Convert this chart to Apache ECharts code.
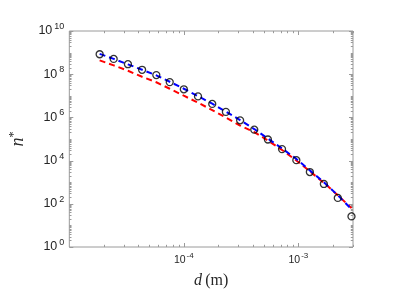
<!DOCTYPE html>
<html>
<head>
<meta charset="utf-8">
<script src="https://cdn.jsdelivr.net/npm/echarts@6/dist/echarts.min.js"></script>
<style>
html,body{margin:0;padding:0;background:#fff;}
#c{width:415px;height:294px;}
</style>
</head>
<body>
<div id="c"></div>
<script>
// d (m)
var dValues = [1.84e-5, 2.44e-5, 3.25e-5, 4.32e-5, 5.75e-5, 7.53e-5, 1.0e-4, 1.33e-4, 1.77e-4, 2.33e-4, 3.1e-4, 4.12e-4, 5.42e-4, 7.2e-4, 9.6e-4, 1.26e-3, 1.67e-3, 2.21e-3, 2.91e-3];
// measured n* (circles)
var nMeasured = [8.4e8, 5.1e8, 2.9e8, 1.6e8, 9.1e7, 4.3e7, 2.0e7, 9.4e6, 4.2e6, 1.8e6, 7.3e5, 2.7e5, 9.5e4, 3.4e4, 1.05e4, 2.95e3, 8.3e2, 1.87e2, 26];
// blue dashed model
var nBlue = [8.7e8, 5.13e8, 2.86e8, 1.6e8, 8.9e7, 4.47e7, 2.12e7, 9.6e6, 4.33e6, 1.85e6, 7.5e5, 2.89e5, 1.05e5, 3.65e4, 1.2e4, 3.53e3, 9.9e2, 2.49e2, 56];
// red dashed model
var nRed = [4.38e8, 2.57e8, 1.44e8, 7.6e7, 4.24e7, 2.12e7, 1.01e7, 4.81e6, 2.17e6, 9.8e5, 4.19e5, 2.1e5, 8.5e4, 3.11e4, 1.02e4, 3.18e3, 9.4e2, 2.49e2, 63];

var xMin = 1e-5, xMax = 3e-3, yMin = 1, yMax = 1e10;
var xMajorTicks = [1e-4, 1e-3];
var yMajorTicks = [1, 1e2, 1e4, 1e6, 1e8, 1e10];
var mantissas = [2, 3, 4, 5, 6, 7, 8, 9];

var xMinorTicks = [];
[-5, -4, -3].forEach(function (e) {
  mantissas.forEach(function (m) {
    var v = m * Math.pow(10, e);
    if (v <= xMax * 1.0001) xMinorTicks.push(v);
  });
});
var yMinorTicks = [];
for (var e = 0; e < 10; e++) {
  mantissas.forEach(function (m) { yMinorTicks.push(m * Math.pow(10, e)); });
  if (e % 2 === 1) yMinorTicks.push(Math.pow(10, e));
}

function zip(a, b) { return a.map(function (v, i) { return [v, b[i]]; }); }

var tickData = [];
xMajorTicks.forEach(function (v) { tickData.push([v, yMin, 0, 4]); });
xMinorTicks.forEach(function (v) { tickData.push([v, yMin, 0, 2.2]); });
yMajorTicks.forEach(function (v) { tickData.push([xMin, v, 1, 4]); });
yMinorTicks.forEach(function (v) { tickData.push([xMin, v, 1, 2.2]); });

var axisColor = '#9a9a9a';
var textColor = '#262626';
var sans = 'Liberation Sans, Arial, sans-serif';
var serif = 'Liberation Serif, Times New Roman, serif';

function supLabel(value) {
  var e = Math.round(Math.log10(value));
  if (Math.abs(Math.log10(value) - e) > 1e-6) return '';
  return '{b|10}{s|' + e + '}';
}

var chart = echarts.init(document.getElementById('c'), null, { renderer: 'canvas' });
chart.setOption({
  animation: false,
  backgroundColor: '#fff',
  grid: { left: 58, top: 31, right: 62, bottom: 46, show: true, borderColor: axisColor, borderWidth: 1, backgroundColor: '#fff' },
  xAxis: {
    type: 'log', logBase: 10, min: xMin, max: xMax,
    axisLine: { show: false },
    axisTick: { show: false },
    splitLine: { show: false },
    axisLabel: {
      margin: 5,
      formatter: function (v) { return (Math.round(Math.log10(v)) === -5) ? '' : supLabel(v); },
      rich: {
        b: { fontFamily: sans, fontSize: 10.5, color: textColor },
        s: { fontFamily: sans, fontSize: 8, color: textColor, padding: [0, 0, 8, 1] }
      }
    },
    name: '{i|d} {r|(m)}',
    nameLocation: 'middle',
    nameGap: 26,
    nameTextStyle: {
      rich: {
        i: { fontFamily: serif, fontStyle: 'italic', fontSize: 16, color: textColor },
        r: { fontFamily: serif, fontSize: 16, color: textColor }
      }
    }
  },
  yAxis: {
    type: 'log', logBase: 10, min: yMin, max: yMax,
    interval: 2,
    splitNumber: 5,
    axisLine: { show: false },
    axisTick: { show: false },
    splitLine: { show: false },
    axisLabel: {
      margin: 5,
      showMinLabel: true,
      showMaxLabel: true,
      hideOverlap: false,
      formatter: function (v) {
        var e = Math.round(Math.log10(v));
        return (e % 2 === 0) ? supLabel(v) : '';
      },
      rich: {
        b: { fontFamily: sans, fontSize: 12.5, color: textColor },
        s: { fontFamily: sans, fontSize: 9, color: textColor, padding: [0, 0, 9, 2] }
      }
    },
    name: '{i|n}{s|*}',
    nameLocation: 'middle',
    nameRotate: 90,
    nameGap: 33,
    nameTextStyle: {
      rich: {
        i: { fontFamily: serif, fontStyle: 'italic', fontSize: 18, color: textColor },
        s: { fontFamily: serif, fontSize: 12, color: textColor, padding: [0, 0, 9, 0] }
      }
    }
  },
  series: [
    {
      type: 'custom',
      silent: true,
      clip: false,
      z: 1,
      data: tickData,
      renderItem: function (params, api) {
        var cs = params.coordSys;
        var kind = api.value(2), len = api.value(3);
        var style = { stroke: axisColor, lineWidth: 1 };
        var children = [];
        if (kind === 0) {
          var px = Math.round(api.coord([api.value(0), yMin])[0]) + 0.5;
          children.push({ type: 'line', shape: { x1: px, y1: cs.y + cs.height, x2: px, y2: cs.y + cs.height - len }, style: style });
          children.push({ type: 'line', shape: { x1: px, y1: cs.y, x2: px, y2: cs.y + len }, style: style });
        } else {
          var py = Math.round(api.coord([xMin, api.value(1)])[1]) + 0.5;
          children.push({ type: 'line', shape: { x1: cs.x, y1: py, x2: cs.x + len, y2: py }, style: style });
          children.push({ type: 'line', shape: { x1: cs.x + cs.width, y1: py, x2: cs.x + cs.width - len, y2: py }, style: style });
        }
        return { type: 'group', children: children };
      }
    },
    {
      type: 'line',
      data: zip(dValues, nRed),
      showSymbol: false,
      z: 2,
      lineStyle: { color: '#ff0000', width: 2, type: [6, 4] }
    },
    {
      type: 'line',
      data: zip(dValues, nBlue),
      showSymbol: false,
      z: 3,
      lineStyle: { color: '#0000ff', width: 2, type: [6, 4] }
    },
    {
      type: 'scatter',
      data: zip(dValues, nMeasured),
      symbol: 'circle',
      symbolSize: 7,
      z: 4,
      itemStyle: { color: 'rgba(0,0,0,0)', borderColor: '#000', borderWidth: 1.3 }
    }
  ]
});
</script>
</body>
</html>
